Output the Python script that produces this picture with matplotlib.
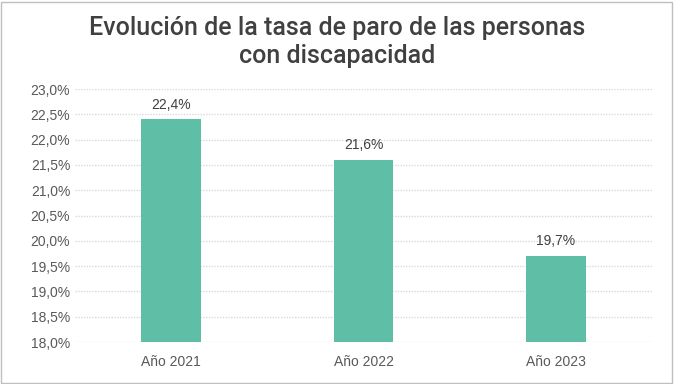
import matplotlib.pyplot as plt
from matplotlib.ticker import FuncFormatter

# data
categories = ["Año 2021", "Año 2022", "Año 2023"]
values = [22.4, 21.6, 19.7]
yticks = [18.0, 18.5, 19.0, 19.5, 20.0, 20.5, 21.0, 21.5, 22.0, 22.5, 23.0]
title_lines = ["Evolución de la tasa de paro de las personas", "con discapacidad"]

plt.rcParams["font.family"] = ["Liberation Sans", "DejaVu Sans"]

fig = plt.figure(figsize=(6.74, 3.84), dpi=100)
ax = fig.add_axes([75 / 674, 1 - 342 / 384, 577 / 674, 253 / 384])

x = range(len(categories))
ax.bar(x, values, width=0.31, color="#5fbfa6", zorder=3)

for xi, v in zip(x, values):
    ax.text(xi, v + 0.15, f"{v:.1f}%".replace(".", ","), ha="center", va="bottom",
            fontsize=10, color="#404040")

ax.set_ylim(18.0, 23.0)
ax.set_xlim(-0.5, 2.5)
ax.set_yticks(yticks)
ax.yaxis.set_major_formatter(FuncFormatter(lambda v, p: f"{v:.1f}%".replace(".", ",")))
ax.set_xticks(list(x))
ax.set_xticklabels(categories)
ax.tick_params(axis="both", length=0, labelsize=10, labelcolor="#595959")
ax.tick_params(axis="x", pad=9)
ax.grid(axis="y", color="#d9d9d9", linewidth=1, linestyle=(0, (1, 1)), zorder=0)
for s in ax.spines.values():
    s.set_visible(False)

for i, line in enumerate(title_lines):
    fig.text(0.5, 1 - (28 + 28 * i) / 384, line, ha="center", va="center",
             fontsize=18, fontweight="medium", family="Roboto", color="#404040")

# outer border
fig.patches.append(plt.Rectangle((0.002, 0.003), 0.995, 0.993, transform=fig.transFigure,
                                 fill=False, edgecolor="#bfbfbf", linewidth=1))

fig.savefig("out.png", dpi=100)
